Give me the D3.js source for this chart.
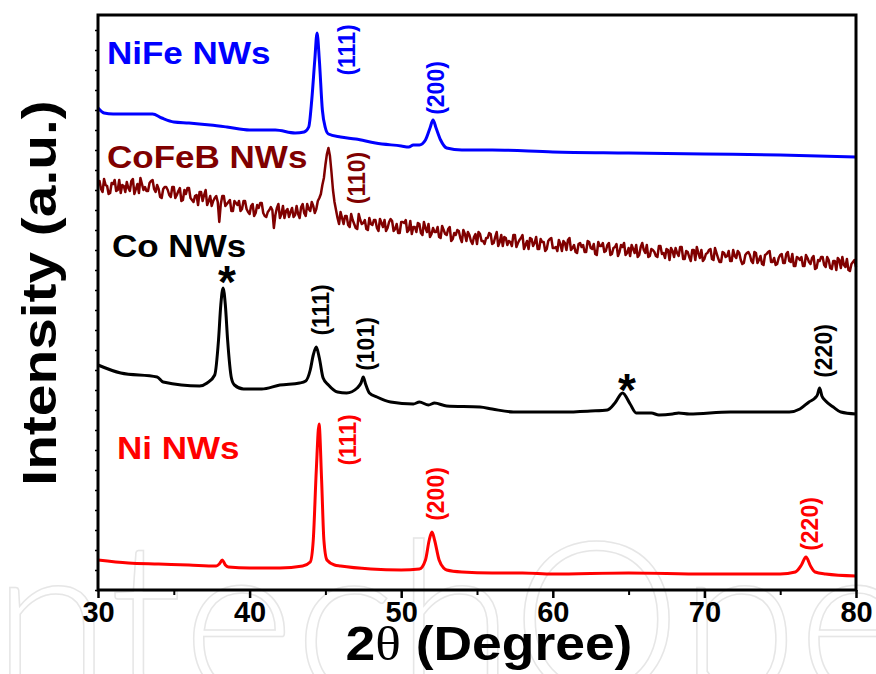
<!DOCTYPE html>
<html><head><meta charset="utf-8">
<script src="https://cdn.jsdelivr.net/npm/d3@7"></script>
<style>body{margin:0;background:#fff}svg{display:block}</style>
</head><body><svg id="c" width="876" height="674"></svg>
<script>
// ---------- data ----------
const xTicks = [30, 40, 50, 60, 70, 80];
const xMinorTicks = [35, 45, 55, 65, 75];
const yMinorTicks = [0, 20, 40, 60, 80, 100, 120, 140, 160, 180, 200, 220, 240, 260, 280, 300, 320, 340, 360, 380, 400, 420, 440, 460, 480, 500, 520, 540, 560];
const xTitle = "2θ (Degree)";
const yTitle = "Intensity (a.u.)";
const watermark = "IntechOpen";
const seriesNames = ["NiFe NWs", "CoFeB NWs", "Co NWs", "Ni NWs"];
const seriesColors = ["#0000ff", "#800000", "#000000", "#ff0000"];
// label anchors [2θ, intensity]
const seriesLabelAnchors = [[30.59, 526], [30.59, 422], [30.92, 333], [31.25, 131]];

const niFe = [[30.0,482],[30.4,477],[31.0,476],[32.0,476],[33.0,476],[33.6,476],[34.2,472],[35.0,468],[36.0,467],[37.4,465],[38.5,463],[40.0,460],[41.7,460],[43.0,457],[43.6,458],[43.9,463],[44.1,490],[44.3,530],[44.45,557],[44.6,530],[44.8,480],[45.0,462],[45.2,456],[46.0,453],[47.0,451],[48.3,447],[50.0,444],[50.5,443],[50.8,445],[51.2,445],[51.6,450],[51.9,462],[52.1,470],[52.3,462],[52.6,450],[53.0,442],[54.0,440],[56.0,440],[60.0,438],[65.0,437],[70.0,436],[75.0,435],[80.0,433]];

// CoFeB scan: readings at 30.0, 30.2, ... 80.0 ...
const coFeBEven = [
407,401,411,404,397,406,399,410,405,398,402,409,396,406,412,400,
399,407,410,398,401,392,403,400,393,403,
395,402,390,396,402,390,394,385,398,395,
385,394,389,394,368,394,384,388,379,389,385,379,389,381,376,
386,377,382,387,374,378,383,362,382,372,384,379,373,382,375,
376,383,377,386,379,384,381,392,405,425,442,418,388,372,378,
366,374,363,370,362,376,366,370,360,366,370,362,371,363,359,368,369,361,357,368,
367,358,369,363,358,366,355,362,366,356,358,363,352,360,355,363,351,355,359,348,356,358,349,353,346,
356,349,352,357,346,353,344,355,353,345,348,355,343,350,355,345,341,351,347,341,351,348,341,351,342,
343,350,339,347,350,340,345,337,347,345,338,348,341,336,348,344,338,345,335,342,346,338,343,335,342,
345,337,333,343,340,345,334,340,334,344,336,332,340,342,333,337,343,331,339,333,340,330,337,340,331,
337,341,330,337,328,338,333,339,329,334,339,330,327,337,335,327,337,330,326,335,338,328,332,326,335,
327,336,329,336,324,332,333,324,332,326,334,322,329,333,323,330,321,329,332,322,325,331,319,328,323];
// ... and readings at 30.1, 30.3, ... 79.9
const coFeBOdd = [
409,398,405,396,407,410,400,397,404,408,399,411,401,397,406,403,
399,409,401,405,393,401,403,395,403,392,
399,389,400,402,392,388,395,398,389,400,
389,384,392,388,386,394,386,390,379,387,389,381,389,378,384,
374,385,387,377,373,380,380,375,386,376,372,381,378,373,384,
372,386,374,381,388,377,389,396,412,436,434,400,380,366,372,
374,365,376,366,361,370,367,361,372,365,370,359,367,370,362,371,359,366,357,368,
370,360,356,363,367,357,368,358,353,362,358,353,364,356,361,349,357,360,352,360,349,355,346,356,358,
349,346,352,356,347,358,348,344,352,349,344,355,347,352,341,349,352,344,353,341,348,339,349,352,342,
339,346,349,340,352,342,338,346,343,338,349,342,346,335,344,347,339,347,336,343,334,345,347,337,334,
341,345,335,347,337,333,341,338,333,344,337,341,330,339,342,334,343,331,338,329,340,343,332,329,336,
340,331,342,332,328,337,334,329,340,332,337,326,335,338,329,338,327,334,325,336,339,328,325,332,336,
327,338,328,324,333,330,324,335,328,332,321,330,333,325,333,322,329,320,330,333,323,320,326,330];

const co = [[30.0,225],[31.5,217],[33.9,213],[34.3,208],[36.7,204],[37.2,207],[37.7,215],[37.95,250],[38.1,285],[38.25,302],[38.4,285],[38.55,250],[38.8,212],[39.0,205],[39.6,201],[40.8,201],[42.0,205],[43.3,207],[43.7,209],[44.0,220],[44.2,235],[44.4,243],[44.6,232],[44.85,212],[45.2,205],[45.8,198],[46.4,197],[47.1,202],[47.35,207],[47.5,213],[47.65,206],[47.9,197],[48.4,193],[49.3,188],[50.8,186],[51.2,188],[51.8,185],[52.2,187],[53.0,184],[55.2,183],[56.0,181],[57.4,178],[60.7,178],[62.5,179],[63.6,180],[64.1,187],[64.6,197],[65.1,186],[65.5,177],[66.5,177],[67.0,175],[67.9,176],[68.3,177],[69.0,176],[71.7,178],[74.0,178],[75.6,178],[76.3,181],[76.9,188],[77.3,192],[77.45,195],[77.6,202],[77.75,194],[78.0,189],[78.5,183],[79.0,178],[80.0,176]];

const ni = [[30.0,30],[32.0,27],[34.0,26],[36.0,25],[37.8,24],[38.0,26],[38.2,30],[38.4,25],[38.6,23],[40.0,22],[42.0,22],[43.5,24],[44.0,28],[44.2,50],[44.4,120],[44.58,166],[44.75,110],[44.9,50],[45.1,30],[45.6,25],[46.0,24],[48.0,21],[50.0,20],[51.2,21],[51.6,30],[51.85,50],[52.03,58],[52.2,50],[52.5,30],[52.8,22],[53.0,20],[54.0,18],[56.0,17],[58.0,17],[60.0,16],[65.0,17],[70.0,16],[75.0,16],[76.0,18],[76.4,25],[76.7,33],[77.0,24],[77.3,18],[78.0,16],[80.0,14]];

// peak annotations: series index, text, 2θ, intensity (text centre)
const peakLabels = [
  {s:0, text:"(111)", theta:46.42, level:540},
  {s:0, text:"(200)", theta:52.30, level:502},
  {s:1, text:"(110)", theta:47.08, level:412},
  {s:2, text:"(111)", theta:44.71, level:280},
  {s:2, text:"(101)", theta:47.68, level:246},
  {s:2, text:"(220)", theta:77.89, level:239},
  {s:3, text:"(111)", theta:46.49, level:150},
  {s:3, text:"(200)", theta:52.30, level:96},
  {s:3, text:"(220)", theta:76.97, level:66}
];
const starLabels = [{theta:38.51, level:318}, {theta:64.89, level:210}];

// ---------- drawing ----------
const svg = d3.select("#c");
const plot = {left: 98, right: 856, top: 15, bottom: 590};
const x = d3.scaleLinear().domain([30, 80]).range([plot.left, plot.right]);
const y = d3.scaleLinear().domain([0, 575]).range([plot.bottom, plot.top]);
const font = "'Liberation Sans', Arial, sans-serif";

// faint publisher watermark
svg.append("text").attr("x", -62).attr("y", 695)
  .attr("font-family", "Lato, 'Open Sans', sans-serif").attr("font-weight", 300)
  .attr("font-size", 215).attr("fill", "none").attr("stroke", "#e6e6e6").attr("stroke-width", 1.5)
  .text(watermark);

const coFeB = coFeBEven.map((v, i) => [30 + i * 0.2, v])
  .concat(coFeBOdd.map((v, i) => [30.1 + i * 0.2, v]))
  .sort((a, b) => a[0] - b[0]);

const seriesData = [niFe, coFeB, co, ni];

const line = d3.line().x(d => x(d[0])).y(d => y(d[1]));
seriesData.forEach((data, i) => {
  svg.append("path").datum(data)
    .attr("fill", "none").attr("stroke", seriesColors[i])
    .attr("stroke-width", i === 1 ? 2.5 : 3).attr("stroke-linejoin", "round")
    .attr("d", line.curve(i === 1 ? d3.curveLinear : d3.curveMonotoneX));
});

// axes
const gx = svg.append("g").attr("transform", `translate(0,${plot.bottom})`)
  .call(d3.axisBottom(x).tickValues(xTicks).tickSize(8).tickPadding(3).tickFormat(d3.format("d")));
gx.select(".domain").remove();
gx.selectAll(".tick line").attr("stroke", "#000").attr("stroke-width", 2.5);
gx.selectAll(".tick text").attr("font-family", font).attr("font-weight", "bold").attr("font-size", 29).attr("fill", "#000");
const gxm = svg.append("g").attr("transform", `translate(0,${plot.bottom})`)
  .call(d3.axisBottom(x).tickValues(xMinorTicks).tickSize(5).tickFormat(""));
gxm.select(".domain").remove();
gxm.selectAll(".tick line").attr("stroke", "#000").attr("stroke-width", 2);

const gy = svg.append("g").attr("transform", `translate(${plot.left},0)`)
  .call(d3.axisLeft(y).tickValues(yMinorTicks).tickSize(3).tickFormat(""));
gy.select(".domain").remove();
gy.selectAll(".tick line").attr("stroke", "#000").attr("stroke-width", 1.5);

// frame
svg.append("rect").attr("x", plot.left).attr("y", plot.top)
  .attr("width", plot.right - plot.left).attr("height", plot.bottom - plot.top)
  .attr("fill", "none").attr("stroke", "#000").attr("stroke-width", 3);

function stretch(sel, k) {
  const w = sel.node().getComputedTextLength();
  sel.attr("textLength", w * k).attr("lengthAdjust", "spacingAndGlyphs");
}

// series labels
seriesNames.forEach((name, i) => {
  const t = svg.append("text")
    .attr("x", x(seriesLabelAnchors[i][0])).attr("y", y(seriesLabelAnchors[i][1]))
    .attr("font-family", font).attr("font-weight", "bold").attr("font-size", 31)
    .attr("fill", seriesColors[i]).text(name);
  stretch(t, 1.13);
});

// peak labels (rotated)
peakLabels.forEach(p => {
  svg.append("text")
    .attr("transform", `translate(${x(p.theta)},${y(p.level)}) rotate(-90)`)
    .attr("text-anchor", "middle").attr("dy", "0.35em")
    .attr("font-family", font).attr("font-weight", "bold").attr("font-size", 23)
    .attr("fill", seriesColors[p.s]).text(p.text);
});
starLabels.forEach(p => {
  svg.append("text")
    .attr("x", x(p.theta)).attr("y", y(p.level)).attr("dy", "0.56em")
    .attr("text-anchor", "middle")
    .attr("font-family", font).attr("font-weight", "bold").attr("font-size", 46)
    .attr("fill", "#000").text("*");
});

// axis titles
const xt = svg.append("text").attr("x", 489).attr("y", 660).attr("text-anchor", "middle")
  .attr("font-family", font).attr("font-weight", "bold").attr("font-size", 49).attr("fill", "#000");
xt.append("tspan").text(xTitle.slice(0, 1));
xt.append("tspan").attr("font-family", "'Liberation Serif', 'DejaVu Serif', serif").attr("font-weight", "normal").text(xTitle.slice(1, 2));
xt.append("tspan").text(xTitle.slice(2));
stretch(xt, 1.09);

const yt = svg.append("text").attr("transform", "translate(56,293) rotate(-90)").attr("text-anchor", "middle")
  .attr("font-family", font).attr("font-weight", "bold").attr("font-size", 49).attr("fill", "#000").text(yTitle);
stretch(yt, 1.16);
</script>
</body></html>
